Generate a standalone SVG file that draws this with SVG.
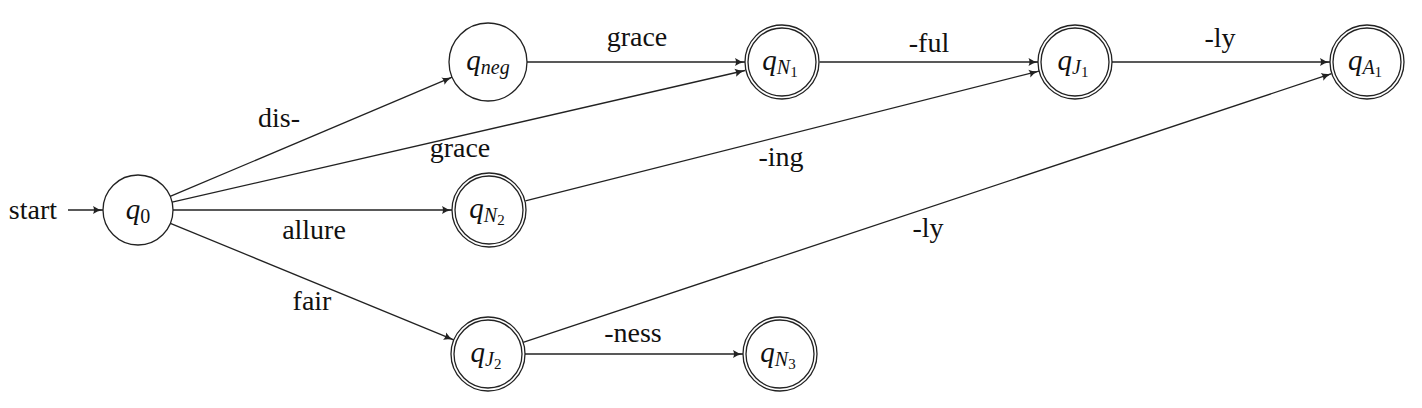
<svg xmlns="http://www.w3.org/2000/svg" width="1422" height="408" viewBox="0 0 1422 408">
<style>
.st{fill:#fff;stroke:#222;stroke-width:1.3}
.e{stroke:#222;stroke-width:1.3;fill:none;marker-end:url(#ah)}
.lb{font-size:28px;fill:#111;text-anchor:middle}
.q{font-style:italic;font-size:29px;fill:#111;text-anchor:middle}
.s{font-size:20px}
.ss{font-size:15px;font-style:normal}
</style>
<defs>
<marker id="ah" markerUnits="userSpaceOnUse" markerWidth="12" markerHeight="10" viewBox="-1 -5 12 10" refX="10" refY="0" orient="auto">
<path d="M0,-4 Q4,-1 10,0 Q4,1 0,4 Q2,0 0,-4 z" fill="#222"/>
</marker>
</defs>
<rect width="1422" height="408" fill="#fff"/>
<g id="connectors" font-family="Liberation Serif, DejaVu Serif, serif">
<line class="e" x1="68" y1="210" x2="103" y2="210"/>
<line class="e" x1="170.2" y1="196.4" x2="452.1" y2="77.2"/>
<line class="e" x1="172.1" y1="202.2" x2="745" y2="70.5"/>
<line class="e" x1="173" y1="210" x2="452" y2="210"/>
<line class="e" x1="170.4" y1="223.3" x2="453.8" y2="339.9"/>
<line class="e" x1="527" y1="62" x2="745" y2="62"/>
<line class="e" x1="819.5" y1="62" x2="1038.5" y2="62"/>
<line class="e" x1="1112" y1="62" x2="1330" y2="62"/>
<line class="e" x1="525.4" y1="200.8" x2="1039" y2="71.1"/>
<line class="e" x1="523.1" y1="342.3" x2="1331.5" y2="73.7"/>
<line class="e" x1="525" y1="354" x2="743" y2="354"/>
<text class="lb" x="57" y="219" style="text-anchor:end">start</text>
<text class="lb" x="279" y="127">dis-</text>
<text class="lb" x="460" y="157">grace</text>
<text class="lb" x="314" y="239">allure</text>
<text class="lb" x="312" y="310">fair</text>
<text class="lb" x="637" y="46">grace</text>
<text class="lb" x="929" y="52">-ful</text>
<text class="lb" x="781" y="166">-ing</text>
<text class="lb" x="1220" y="47">-ly</text>
<text class="lb" x="928" y="237">-ly</text>
<text class="lb" x="633" y="342">-ness</text>
</g>
<g id="nodes" font-family="Liberation Serif, DejaVu Serif, serif">
<g id="q0">
<circle class="st" cx="138" cy="210" r="35"/>
<text class="q" x="138" y="219">q<tspan class="ss" dy="4" style="font-size:20px">0</tspan></text>
</g>
<g id="qneg">
<circle class="st" cx="488" cy="62" r="39"/>
<text class="q" x="488" y="70">q<tspan class="s" dy="4">neg</tspan></text>
</g>
<g id="qN1">
<circle class="st" cx="782" cy="62" r="37"/>
<circle class="st" cx="782" cy="62" r="34"/>
<text class="q" x="780" y="70">q<tspan class="s" dy="4">N</tspan><tspan class="ss" dy="3">1</tspan></text>
</g>
<g id="qJ1">
<circle class="st" cx="1075" cy="62" r="37"/>
<circle class="st" cx="1075" cy="62" r="34"/>
<text class="q" x="1073" y="70">q<tspan class="s" dy="4">J</tspan><tspan class="ss" dy="3">1</tspan></text>
</g>
<g id="qA1">
<circle class="st" cx="1367" cy="62" r="37"/>
<circle class="st" cx="1367" cy="62" r="34"/>
<text class="q" x="1365" y="70">q<tspan class="s" dy="4">A</tspan><tspan class="ss" dy="3">1</tspan></text>
</g>
<g id="qN2">
<circle class="st" cx="489" cy="210" r="37"/>
<circle class="st" cx="489" cy="210" r="34"/>
<text class="q" x="487" y="218">q<tspan class="s" dy="4">N</tspan><tspan class="ss" dy="3">2</tspan></text>
</g>
<g id="qJ2">
<circle class="st" cx="488" cy="354" r="37"/>
<circle class="st" cx="488" cy="354" r="34"/>
<text class="q" x="486" y="362">q<tspan class="s" dy="4">J</tspan><tspan class="ss" dy="3">2</tspan></text>
</g>
<g id="qN3">
<circle class="st" cx="780" cy="354" r="37"/>
<circle class="st" cx="780" cy="354" r="34"/>
<text class="q" x="778" y="362">q<tspan class="s" dy="4">N</tspan><tspan class="ss" dy="3">3</tspan></text>
</g>
</g>
</svg>
